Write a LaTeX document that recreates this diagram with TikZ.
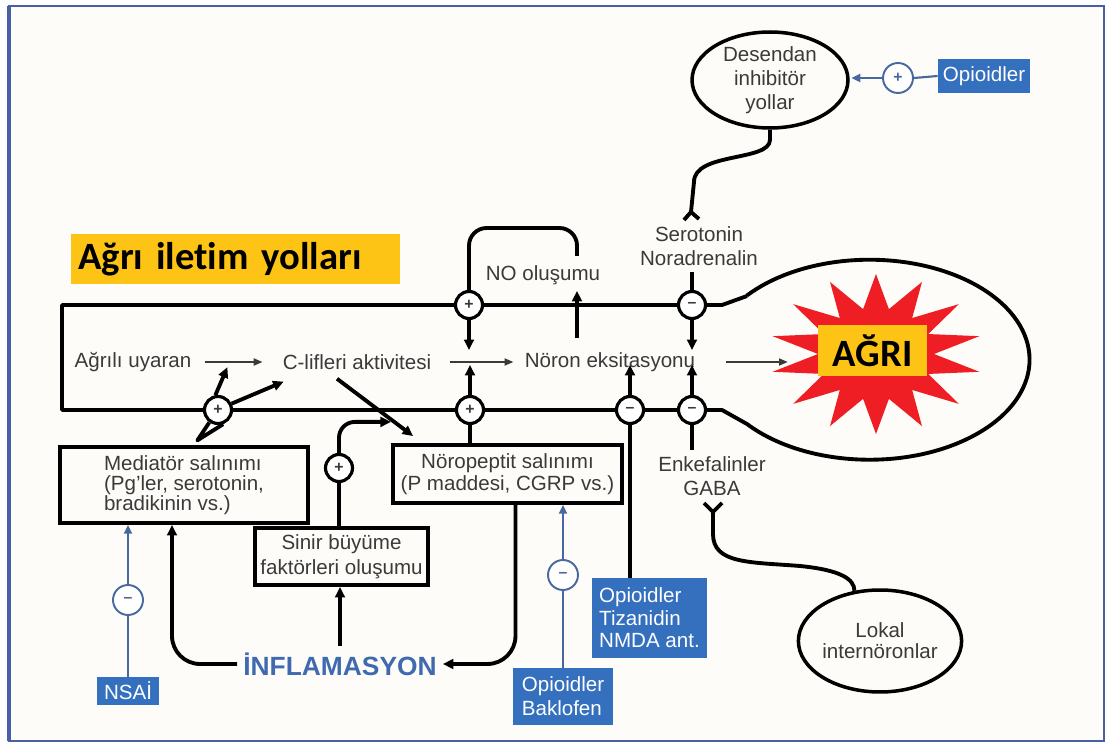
\documentclass[tikz,border=0pt]{standalone}
\usepackage{fontspec}
\setmainfont{Liberation Sans}
\newfontfamily\baslikfont{Carlito}[Ligatures=NoCommon]
\usetikzlibrary{arrows.meta,shapes.geometric}

\definecolor{ilacmavi}{RGB}{52,112,190}
\definecolor{cizgimavi}{RGB}{72,104,160}
\definecolor{inflmavi}{RGB}{64,106,175}
\definecolor{sarikutu}{RGB}{253,196,22}
\definecolor{agrikirmizi}{RGB}{238,30,36}
\definecolor{yazigri}{RGB}{58,58,58}
\definecolor{cerceve}{RGB}{70,95,165}
\definecolor{zemin}{RGB}{253,252,248}

\begin{document}
\begin{tikzpicture}
[x=0.02cm, y=-0.02cm,
 kalin/.style={line width=2.2pt, black, line join=round},
 ok/.style={-{Triangle[length=6pt, width=5.5pt]}},
 ince/.style={line width=0.9pt, yazigri, -{Triangle[length=5pt, width=4pt]}},
 mavi/.style={line width=1.2pt, cizgimavi},
 mok/.style={-{Triangle[length=5pt, width=4.5pt]}},
 kutu/.style={draw, line width=2.2pt, inner sep=0pt, align=center},
 ilac/.style={fill=ilacmavi, text=white, inner sep=0pt, align=left},
 isaret/.style={circle, draw, line width=1.8pt, fill=white, minimum size=0.54cm,
                inner sep=0pt, font=\bfseries\fontsize{9}{9}\selectfont},
 maviisaret/.style={isaret, draw=cizgimavi, line width=1.1pt, minimum size=0.6cm, text=cizgimavi},
 oval/.style={ellipse, draw, line width=2pt, inner sep=0pt, align=center}
]
\tikzset{every node/.style={text=yazigri, font=\fontsize{11.7}{13.5}\selectfont}}

% zemin ve cerceve
\fill[white] (0,0) rectangle (1107,743);
\fill[zemin] (9,6) rectangle (1104,741);
\draw[cerceve, line width=1pt] (9,6) rectangle (1104,741);
\draw[cerceve, line width=2pt] (9,6) -- (9,741);
\useasboundingbox (0,0) rectangle (1107,743);

\node[fill=sarikutu, anchor=west, minimum height=1cm, text width=6.3cm, inner xsep=0.14cm,
      align=left, text=black, font=\baslikfont\bfseries\fontsize{22}{24}\selectfont]
      (baslik) at (71,259) {Ağrı iletim yolları};

% ana yol ve agri ovali
\draw[kalin] (747,296) -- (722,305) -- (62,305) -- (62,410) -- (722,410) -- (747,424)
  arc[start angle=140, end angle=-140, x radius=160, y radius=100];
\fill[agrikirmizi] plot[samples at={0,...,27}]
  ({876+(82+24*cos(180*\x))*cos(90+360*\x/28)}, {354-(63+17*cos(180*\x))*sin(90+360*\x/28)}) -- cycle;
\node[fill=sarikutu, minimum width=2.18cm, minimum height=1.02cm, inner sep=0pt, text=black,
      font=\baslikfont\bfseries\fontsize{22}{24}\selectfont] (agrikutu) at (872.5,350.5) {AĞRI};

\node (uyaran) at (133,362) {Ağrılı uyaran};
\node (clif) at (357,362) {C-lifleri aktivitesi};
\node (noron) at (610,362) {Nöron eksitasyonu};
\node (no) at (543,275) {NO oluşumu};
\node[align=center] (sero) at (699,246) {Serotonin\\Noradrenalin};
\node[align=center] (enk) at (712,476) {Enkefalinler\\GABA};
\node[text=inflmavi, font=\bfseries\fontsize{15}{18}\selectfont] (infl) at (340,664) {İNFLAMASYON};

\node[kutu, minimum width=4.96cm, minimum height=1.52cm, align=left,
      font=\fontsize{11.7}{11.5}\selectfont] (med) at (184,485)
      {Mediatör salınımı\\(Pg'ler, serotonin,\\bradikinin vs.)};
\node[kutu, minimum width=3.46cm, minimum height=1.14cm, font=\fontsize{11.7}{14}\selectfont]
      (sinir) at (341.5,556.5) {Sinir büyüme\\faktörleri oluşumu};
\node[kutu, minimum width=4.58cm, minimum height=1.16cm, font=\fontsize{11.7}{12.5}\selectfont]
      (npep) at (507.5,474) {Nöropeptit salınımı\\(P maddesi, CGRP vs.)};

\node[ilac, minimum width=1.26cm, minimum height=0.56cm] (nsai) at (128,691) {NSAİ};
\node[ilac, minimum width=2cm, minimum height=1.14cm] (bakl) at (563,696.5) {Opioidler\\Baklofen};
\node[ilac, minimum width=2.3cm, minimum height=1.6cm, font=\fontsize{11.7}{12.8}\selectfont]
      (tiz) at (649.5,618) {Opioidler\\Tizanidin\\NMDA ant.};
\node[ilac, minimum width=1.84cm, minimum height=0.68cm] (opi) at (984,76) {Opioidler};

\node[oval, minimum width=3.12cm, minimum height=1.92cm] (des) at (770,80) {Desendan\\inhibitör\\yollar};
\node[oval, minimum width=3.12cm, minimum height=2.04cm, font=\fontsize{11.7}{12}\selectfont]
      (lokal) at (880,641) {Lokal\\internöronlar};

\node[isaret] (p1) at (469,305) {+};
\node[isaret] (m1) at (692,305) {–};
\node[isaret] (p2) at (218,410) {+};
\node[isaret] (p3) at (470,410) {+};
\node[isaret] (m2) at (630,410) {–};
\node[isaret] (m3) at (692,410) {–};
\node[isaret] (p4) at (339,468) {+};
\node[maviisaret] (bm1) at (128,600) {–};
\node[maviisaret] (bm2) at (563,575) {–};
\node[maviisaret] (bp1) at (898,78) {+};

\coordinate (noust) at (577,228);
\coordinate (noalt) at (577,256);
\coordinate (nook) at (577,338);
\coordinate (serouc) at (691,212);
\coordinate (enkuc) at (713,512);
\coordinate (orta) at (800,566);

% ana akis
\draw[ince, shorten <=4pt, shorten >=8pt] (uyaran.east) -- (clif.west);
\draw[ince, shorten <=7pt, shorten >=3pt] (clif.east) -- (noron.west);
\draw[ince, shorten <=14pt, shorten >=17pt] (noron.east) -- (noron.east -| agrikutu.west);

% ust sira
\draw[kalin, rounded corners=10pt] (p1.north) |- (noust) -- (noalt);
\draw[kalin, ok] (nook) -- (nook |- no.south);
\draw[kalin, ok] (p1.south) -- ++(0,30);
\draw[kalin] (m1.north) -- (m1.north |- sero.south);
\draw[kalin, ok] (m1.south) -- ++(0,30);

% alt sira
\draw[kalin, ok] (p2.100) -- ++(12,-28);
\draw[kalin, ok] (p2.25) -- ++(52,-22);
\draw[kalin] (p2.235) -- ++(-12,18) -- (p2.290);
\draw[kalin, ok] (p3.north) -- ++(0,-30);
\draw[kalin] (p3.south) -- (p3.south |- npep.north);
\draw[kalin, ok] (m2.north) -- ++(0,-30);
\draw[kalin] (m2.south) -- (m2.south |- tiz.north);
\draw[kalin, ok] (m3.north) -- ++(0,-30);
\draw[kalin] (m3.south) -- (m3.south |- enk.north);
\draw[kalin, ok] ([shift={(-20,3)}]clif.south) -- ([shift={(22,-7)}]npep.north west);
\draw[kalin, ok, rounded corners=9pt] (p4.north) |- ++(52,-31);
\draw[kalin] (p4.south) -- (p4.south |- sinir.north);

% inflamasyon
\draw[kalin, ok, rounded corners=16pt] (infl.west) -| ([shift={(-12,0)}]med.south);
\draw[kalin, ok] (infl.north) -- (infl.north |- sinir.south);
\draw[kalin, ok, rounded corners=16pt] ([shift={(8,0)}]npep.south) |- (infl.east);

% ilaclar
\draw[mavi] (nsai.north) -- (bm1.south);
\draw[mavi, mok] (bm1.north) -- (bm1.north |- med.south);
\draw[mavi] (bakl.north) -- (bm2.south);
\draw[mavi, mok] (bm2.north) -- (bm2.north |- npep.south);
\draw[mavi] (opi.west) -- (bp1.east);
\draw[mavi, mok, shorten >=1pt] (bp1.west) -- (bp1.west -| des.east);

% inen yollar
\draw[kalin] (des.south) -- ++(0,10) .. controls +(0,22) and +(0,-30) .. ([shift={(3,-30)}]serouc) -- (serouc);
\draw[kalin] (serouc) -- ++(-7,8) (serouc) -- ++(8,7);
\draw[kalin] (enkuc) -- ++(-9,-9) (enkuc) -- ++(9,-9);
\draw[kalin] (enkuc) -- ++(0,22) .. controls +(0,30) and +(-50,-4) .. (orta)
  .. controls +(40,4) and +(0,-12) .. (lokal.117);
\end{tikzpicture}
\end{document}
